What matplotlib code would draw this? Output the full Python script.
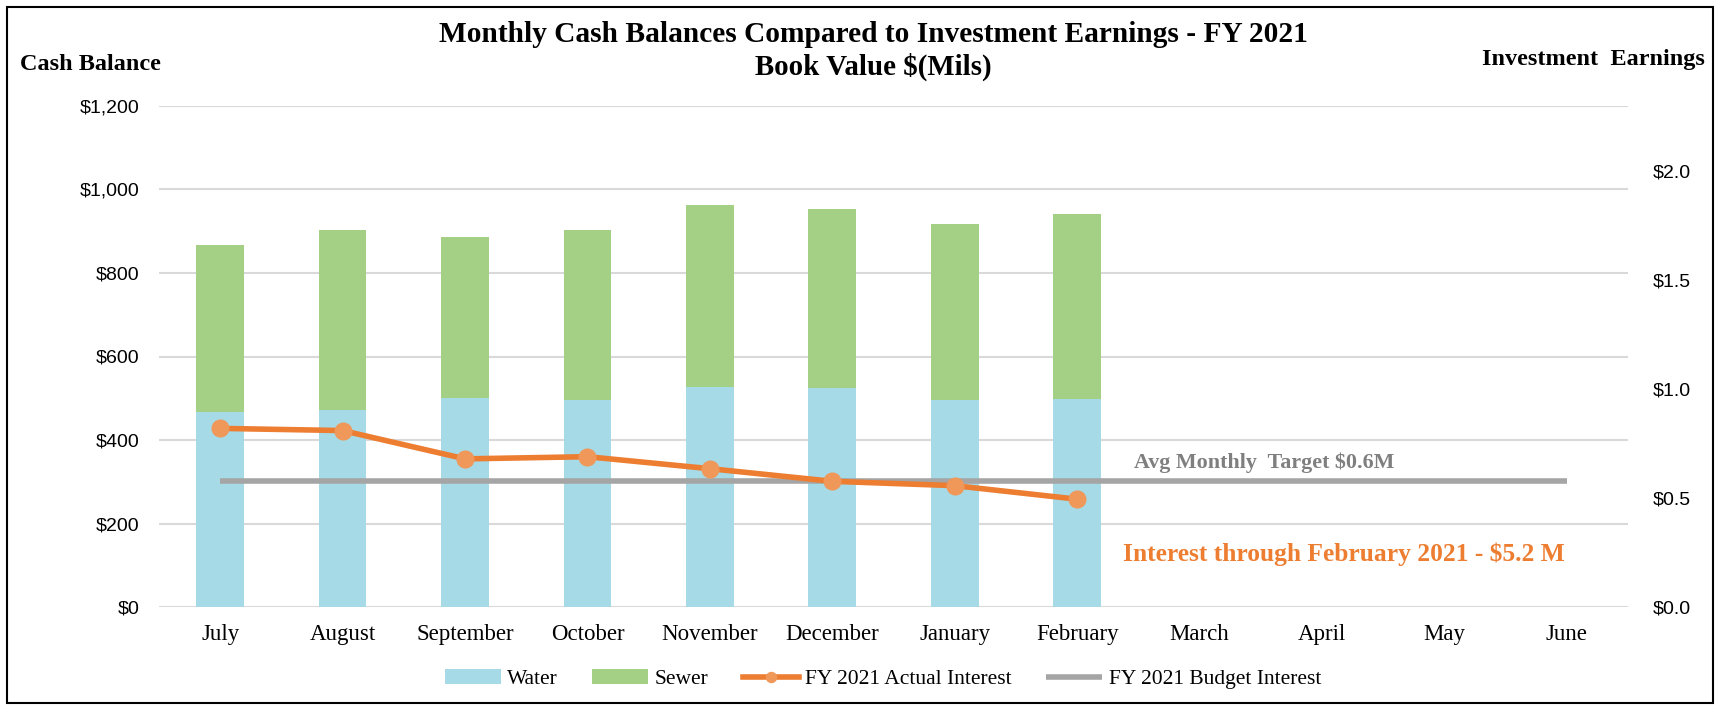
import matplotlib
matplotlib.use("Agg")
import matplotlib.pyplot as plt
from matplotlib.patches import Rectangle
import numpy as np

# data
months = ["July", "August", "September", "October", "November", "December",
          "January", "February", "March", "April", "May", "June"]
water = [466, 473, 500, 495, 528, 524, 495, 499]
sewer_total = [867, 904, 887, 904, 964, 954, 917, 942]
sewer = [t - w for t, w in zip(sewer_total, water)]
actual_interest = [0.82, 0.81, 0.68, 0.69, 0.635, 0.577, 0.557, 0.495]
budget_interest = [0.577] * 12
left_ticks = [0, 200, 400, 600, 800, 1000, 1200]
right_ticks = [0.0, 0.5, 1.0, 1.5, 2.0]

WATER, SEWER = "#A6DAE6", "#A4D085"
ORANGE, MARK = "#ED7D31", "#F0985A"
GREY, GRID = "#A5A5A5", "#D9D9D9"
SERIF = ["Liberation Serif", "DejaVu Serif"]
SANS = ["Liberation Sans", "DejaVu Sans"]

W, H = 1719, 705
fig = plt.figure(figsize=(W / 100, H / 100), dpi=100)

def fx(x): return x / W
def fy(y): return 1 - y / H

# outer frame
fig.patches.append(Rectangle((fx(7), fy(703)), fx(1713) - fx(7), fy(7) - fy(703),
                             transform=fig.transFigure, fill=False, ec="black", lw=1.5))

ax = fig.add_axes([fx(159), fy(607), fx(1628) - fx(159), fy(106) - fy(607)])
x = np.arange(len(months))
n = len(water)
ax.bar(x[:n], water, 0.39, color=WATER, label="Water", zorder=2)
ax.bar(x[:n], sewer, 0.39, bottom=water, color=SEWER, label="Sewer", zorder=2)
ax.set_ylim(0, 1200)
ax.set_xlim(-0.5, len(months) - 0.5)
ax.set_yticks(left_ticks)
ax.set_yticklabels([f"${v:,}" for v in left_ticks], family=SANS, fontsize=14)
ax.set_xticks(x)
ax.set_xticklabels(months, family=SERIF, fontsize=16.5)
ax.tick_params(axis="both", length=0)
ax.tick_params(axis="y", pad=14)
ax.tick_params(axis="x", pad=12)
ax.grid(axis="y", color=GRID, lw=1.5, zorder=0)
for s in ax.spines.values():
    s.set_visible(False)

ax2 = ax.twinx()
ax2.plot(x, budget_interest, color=GREY, lw=4, solid_capstyle="butt",
         label="FY 2021 Budget Interest", zorder=3)
ax2.plot(x[:n], actual_interest, "-o", color=ORANGE, mfc=MARK, mec=MARK, ms=12, lw=4,
         label="FY 2021 Actual Interest", zorder=4)
ax2.set_ylim(0, 2.3)
ax2.set_yticks(right_ticks)
ax2.set_yticklabels([f"${v:.1f}" for v in right_ticks], family=SANS, fontsize=14)
ax2.tick_params(axis="y", length=0, pad=18)
for s in ax2.spines.values():
    s.set_visible(False)

# titles and axis captions
fig.text(fx(873), fy(34), "Monthly Cash Balances Compared to Investment Earnings - FY 2021",
         ha="center", va="center", family=SERIF, fontweight="bold", fontsize=21.2)
fig.text(fx(873), fy(67), "Book Value $(Mils)", ha="center", va="center",
         family=SERIF, fontweight="bold", fontsize=20.8)
fig.text(fx(20), fy(65), "Cash Balance", ha="left", va="center",
         family=SERIF, fontweight="bold", fontsize=17.5)
fig.text(fx(1705), fy(60), "Investment  Earnings", ha="right", va="center",
         family=SERIF, fontweight="bold", fontsize=17.5)

# annotations
fig.text(fx(1134), fy(463), "Avg Monthly  Target $0.6M", ha="left", va="center",
         family=SERIF, fontweight="bold", fontsize=15.8, color="#7F7F7F")
fig.text(fx(1123), fy(554), "Interest through February 2021 - $5.2 M", ha="left", va="center",
         family=SERIF, fontweight="bold", fontsize=18.4, color=ORANGE)

# legend
h1, l1 = ax.get_legend_handles_labels()
h2, l2 = ax2.get_legend_handles_labels()
handles = h1 + [h2[1], h2[0]]
labels = l1 + [l2[1], l2[0]]
fig.legend(handles, labels, loc="center", bbox_to_anchor=(fx(883), fy(679)), ncol=4,
           frameon=False, prop={"family": SERIF, "size": 15.5}, handlelength=2.6,
           handletextpad=0.3, columnspacing=1.6, markerscale=0.6)

fig.savefig("out.png", dpi=100)
